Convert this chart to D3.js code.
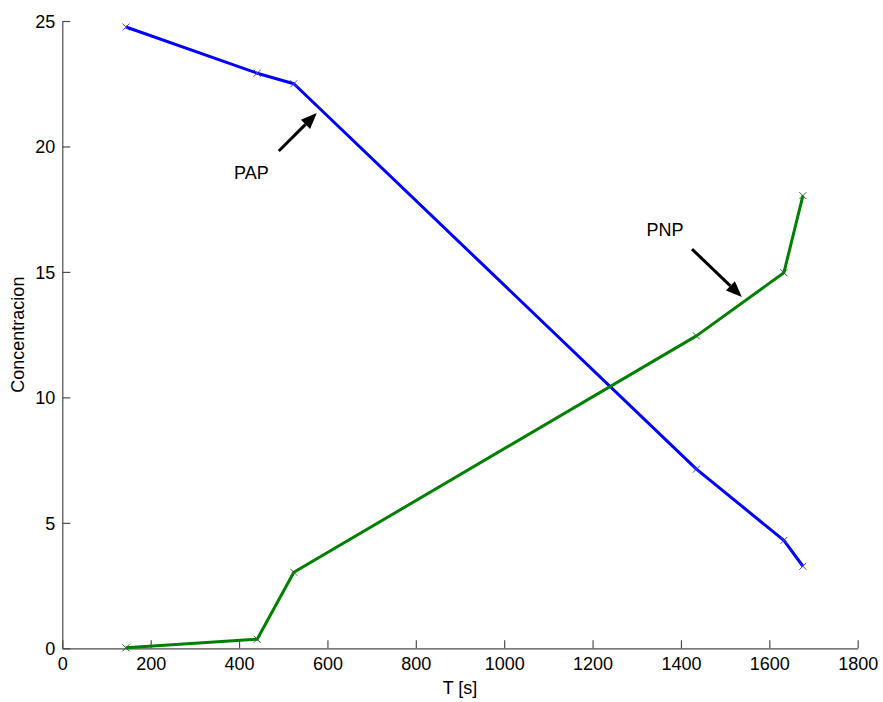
<!DOCTYPE html>
<html>
<head>
<meta charset="utf-8">
<script src="https://cdn.jsdelivr.net/npm/d3@7"></script>
<style>
  html, body { margin: 0; padding: 0; background: #fff; }
  svg { display: block; }
  text { font-family: "Liberation Sans", Arial, sans-serif; }
</style>
</head>
<body>
<svg id="chart" width="883" height="702"></svg>
<script>
// Sampling times [s]
const times = [144, 441, 524, 1435, 1633, 1676];
// Concentration of PAP and PNP at each time
const papValues = [24.76, 22.92, 22.5, 7.14, 4.3, 3.27];
const pnpValues = [0.02, 0.36, 3.03, 12.45, 14.97, 18.04];
// Axis ticks
const xTicks = [0, 200, 400, 600, 800, 1000, 1200, 1400, 1600, 1800];
const yTicks = [0, 5, 10, 15, 20, 25];
// Labels with arrows, in data units
const notes = [
  { label: "PAP", tx: 428, ty: 18.7, x0: 490, y0: 19.82, x1: 576, y1: 21.33 },
  { label: "PNP", tx: 1364, ty: 16.43, x0: 1425, y0: 15.91, x1: 1538, y1: 14.0 }
];

const svg = d3.select("#chart");
const plotLeft = 62.3, plotRight = 857.7, plotTop = 21, plotBottom = 648.3;

const x = d3.scaleLinear().domain([0, 1800]).range([plotLeft, plotRight]);
const y = d3.scaleLinear().domain([0, 25]).range([plotBottom, plotTop]);

const axisColor = "#4d4d4d";
const fontSize = 18;
const fmt = d3.format("d");

// X axis (ticks point into the plot)
const gx = svg.append("g")
  .attr("transform", `translate(0,${plotBottom})`)
  .call(d3.axisBottom(x).tickValues(xTicks).tickFormat(fmt).tickSize(-8).tickPadding(0).tickSizeOuter(0));
gx.select(".domain").attr("stroke", axisColor).attr("stroke-width", 1.2);
gx.selectAll(".tick line").attr("stroke", axisColor).attr("stroke-width", 1.2);
gx.selectAll(".tick text").attr("font-size", fontSize).attr("fill", "#000")
  .attr("y", 22).attr("dy", 0)
  .attr("font-family", '"Liberation Sans", Arial, sans-serif');

// Y axis
const gy = svg.append("g")
  .attr("transform", `translate(${plotLeft},0)`)
  .call(d3.axisLeft(y).tickValues(yTicks).tickFormat(fmt).tickSize(-8).tickPadding(7).tickSizeOuter(0));
gy.select(".domain").attr("stroke", axisColor).attr("stroke-width", 1.2);
gy.selectAll(".tick line").attr("stroke", axisColor).attr("stroke-width", 1.2);
gy.selectAll(".tick text").attr("font-size", fontSize).attr("fill", "#000")
  .attr("x", -7).attr("dy", "0.36em")
  .attr("font-family", '"Liberation Sans", Arial, sans-serif');

// Axis titles
svg.append("text")
  .attr("x", (plotLeft + plotRight) / 2).attr("y", 694)
  .attr("text-anchor", "middle").attr("font-size", fontSize)
  .text("T [s]");
svg.append("text")
  .attr("transform", `translate(24,${(plotTop + plotBottom) / 2}) rotate(-90)`)
  .attr("text-anchor", "middle").attr("font-size", fontSize)
  .text("Concentracion");

// Data series
const series = [
  { values: papValues, color: "#0000ff", marker: "#4444dd" },
  { values: pnpValues, color: "#008000", marker: "#2a6a2a" }
];
const line = d3.line().x(d => x(d[0])).y(d => y(d[1]));

series.forEach(s => {
  const pts = times.map((t, i) => [t, s.values[i]]);
  svg.append("path")
    .datum(pts)
    .attr("fill", "none")
    .attr("stroke", s.color)
    .attr("stroke-width", 3)
    .attr("stroke-linejoin", "round")
    .attr("d", line);
  const m = 3.5;
  svg.append("g").selectAll("path")
    .data(pts)
    .join("path")
    .attr("fill", "none")
    .attr("stroke", s.marker)
    .attr("stroke-width", 1)
    .attr("d", d => {
      const cx = x(d[0]), cy = y(d[1]);
      return `M${cx - m},${cy - m}L${cx + m},${cy + m}M${cx - m},${cy + m}L${cx + m},${cy - m}`;
    });
});

// Annotations with filled arrowheads
notes.forEach(n => {
  svg.append("text")
    .attr("x", x(n.tx)).attr("y", y(n.ty))
    .attr("text-anchor", "middle").attr("font-size", fontSize)
    .text(n.label);
  const x0 = x(n.x0), y0 = y(n.y0), x1 = x(n.x1), y1 = y(n.y1);
  const ang = Math.atan2(y1 - y0, x1 - x0);
  const headLen = 16, headHalf = 6.5;
  const bx = x1 - headLen * Math.cos(ang), by = y1 - headLen * Math.sin(ang);
  svg.append("line")
    .attr("x1", x0).attr("y1", y0).attr("x2", bx).attr("y2", by)
    .attr("stroke", "#000").attr("stroke-width", 3);
  const px = -Math.sin(ang) * headHalf, py = Math.cos(ang) * headHalf;
  svg.append("path")
    .attr("d", `M${x1},${y1}L${bx + px},${by + py}L${bx - px},${by - py}Z`)
    .attr("fill", "#000");
});
</script>
</body>
</html>
